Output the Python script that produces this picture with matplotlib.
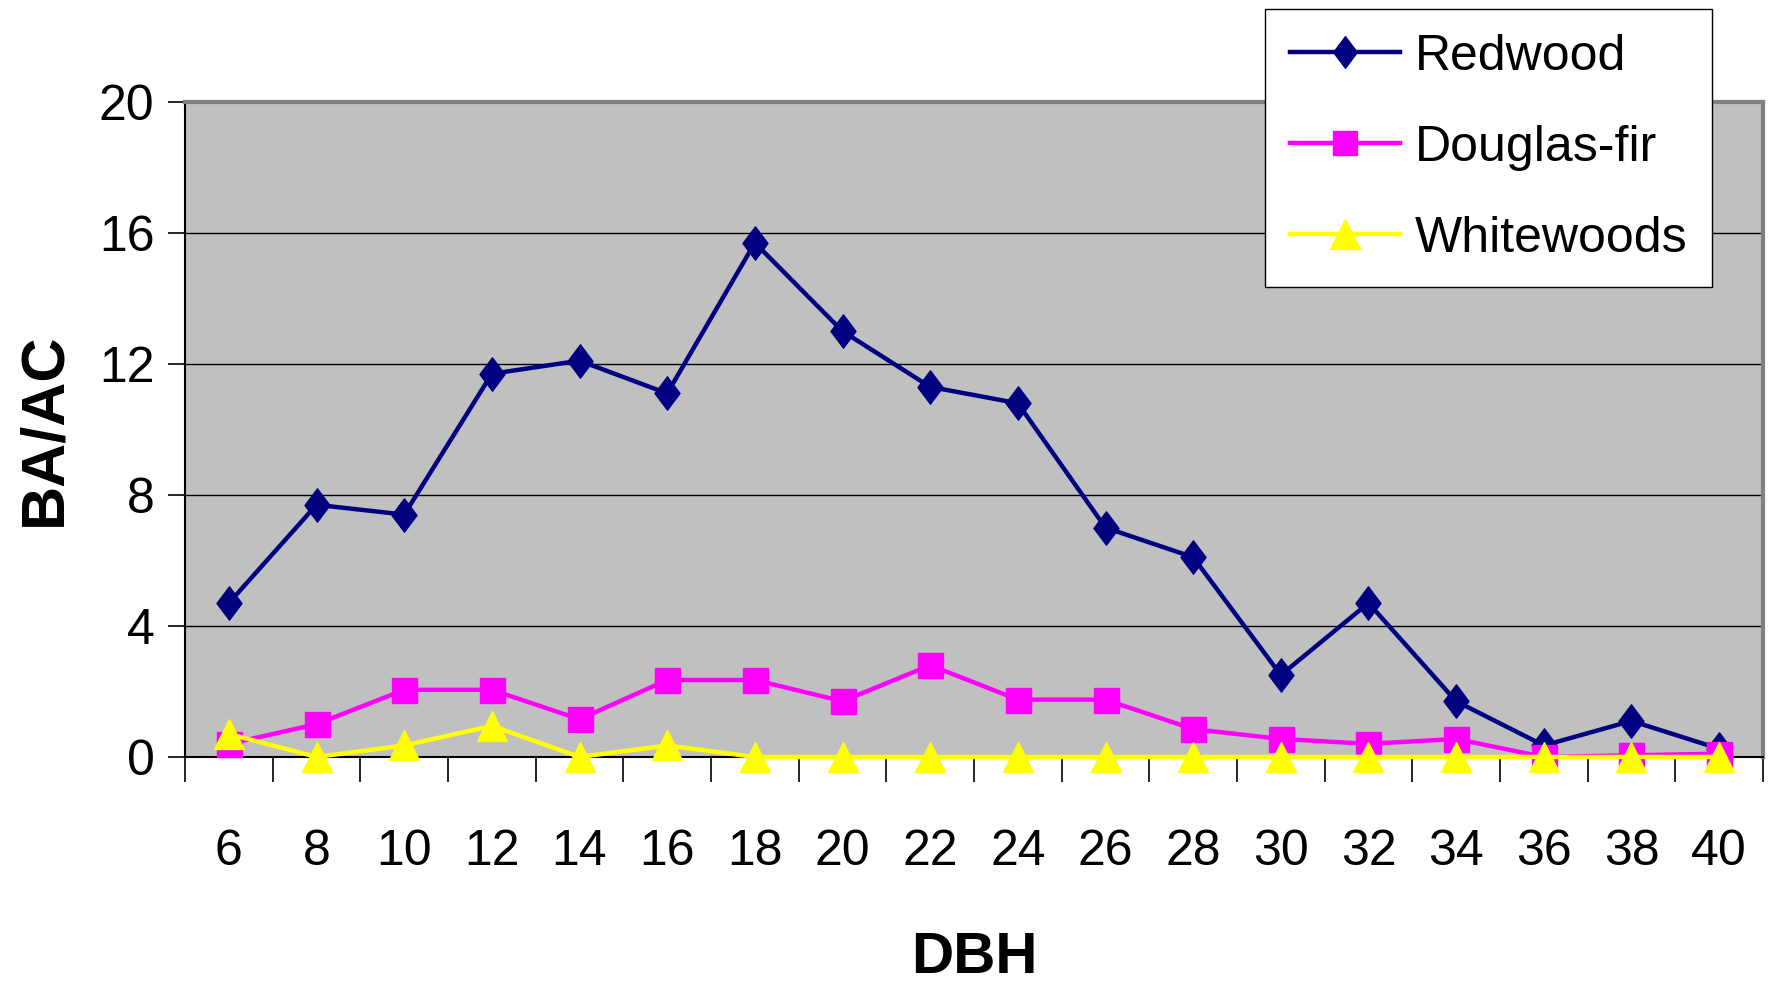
"""BA/AC by DBH class for Redwood, Douglas-fir and Whitewoods."""

import matplotlib

matplotlib.use("Agg")
import matplotlib.pyplot as plt
from matplotlib import font_manager
from matplotlib.path import Path as MPath

dbh = [6, 8, 10, 12, 14, 16, 18, 20, 22, 24, 26, 28, 30, 32, 34, 36, 38, 40]
redwood = [4.7, 7.7, 7.4, 11.7, 12.1, 11.1, 15.7, 13.0, 11.3, 10.8,
           7.0, 6.1, 2.5, 4.7, 1.7, 0.35, 1.1, 0.25]
douglas_fir = [0.4, 1.0, 2.05, 2.05, 1.15, 2.35, 2.35, 1.7, 2.8, 1.75,
               1.75, 0.85, 0.55, 0.4, 0.55, 0.0, 0.05, 0.1]
whitewoods = [0.7, 0.0, 0.35, 0.95, 0.0, 0.35, 0.0, 0.0, 0.0, 0.0,
              0.0, 0.0, 0.0, 0.0, 0.0, 0.0, 0.0, 0.0]
y_ticks = [0, 4, 8, 12, 16, 20]

installed = {f.name for f in font_manager.fontManager.ttflist}
family = "Liberation Sans Narrow" if "Liberation Sans Narrow" in installed else "Liberation Sans"
plt.rcParams["font.family"] = [family, "DejaVu Sans"]

# tall Excel-style diamond
diamond = MPath([(0, 1), (0.75, 0), (0, -1), (-0.75, 0), (0, 1)],
                [MPath.MOVETO, MPath.LINETO, MPath.LINETO, MPath.LINETO, MPath.CLOSEPOLY])

fig = plt.figure(figsize=(17.69, 9.9), dpi=100)
ax = fig.add_axes([0.1046, 0.2354, 0.892, 0.6616])
ax.set_facecolor("#C0C0C0")

x = list(range(len(dbh)))
series = [
    ("Redwood", redwood, "#000080", diamond, 24),
    ("Douglas-fir", douglas_fir, "#FF00FF", "s", 18),
    ("Whitewoods", whitewoods, "#FFFF00", "^", 22),
]
for name, values, color, marker, size in series:
    ax.plot(x, values, color=color, marker=marker, markersize=size,
            linewidth=3.2, label=name, clip_on=False, zorder=3)

ax.set_xlim(-0.5, len(dbh) - 0.5)
ax.set_ylim(0, 20)
ax.set_yticks(y_ticks)
ax.set_xticks(x)
ax.set_xticklabels([str(v) for v in dbh])
ax.set_xticks([i - 0.5 for i in range(len(dbh) + 1)], minor=True)
ax.tick_params(axis="x", which="major", length=0, pad=52, labelsize=36)
ax.tick_params(axis="x", which="minor", length=18, width=1.2, direction="out")
ax.tick_params(axis="y", length=12, width=1.2, pad=10, labelsize=36)
ax.yaxis.grid(True, color="black", linewidth=1.0)
ax.set_axisbelow(True)

for side in ("left", "bottom"):
    ax.spines[side].set_color("black")
    ax.spines[side].set_linewidth(1.5)
for side in ("top", "right"):
    ax.spines[side].set_color("#808080")
    ax.spines[side].set_linewidth(3)

ax.set_ylabel("BA/AC", fontsize=44, fontweight="bold", labelpad=18)
ax.set_xlabel("DBH", fontsize=42, fontweight="bold", labelpad=40)

leg = ax.legend(loc="upper left", bbox_to_anchor=(0.715, 0.991),
                bbox_transform=fig.transFigure, borderaxespad=0,
                fontsize=36, fancybox=False, framealpha=1, edgecolor="black",
                handlelength=2.2, handletextpad=0.3, labelspacing=0.9,
                borderpad=0.5, markerscale=0.95)
leg.get_frame().set_linewidth(1.0)
leg.set_zorder(5)

fig.savefig("out.png", dpi=100)
